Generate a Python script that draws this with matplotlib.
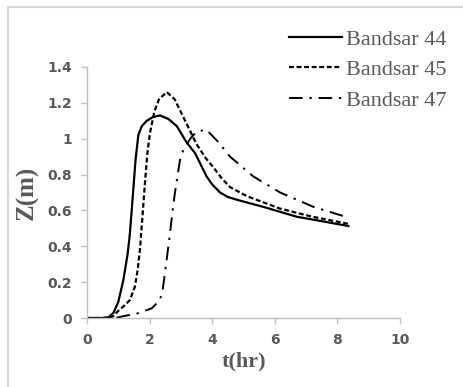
import matplotlib
matplotlib.use("Agg")
import matplotlib.pyplot as plt
from matplotlib.lines import Line2D

# Data
t44 = [0, 0.5, 0.7, 0.85, 1.0, 1.16, 1.3, 1.37, 1.45, 1.55, 1.64, 1.75, 1.91, 2.1, 2.33, 2.6, 2.87, 3.18, 3.45, 3.65, 3.82, 4.0, 4.25, 4.5, 4.78, 5.2, 5.63, 6.7, 7.5, 8.35]
z44 = [0, 0, 0.005, 0.03, 0.09, 0.21, 0.36, 0.47, 0.65, 0.88, 1.02, 1.07, 1.10, 1.12, 1.13, 1.11, 1.07, 0.98, 0.92, 0.85, 0.79, 0.745, 0.70, 0.675, 0.66, 0.64, 0.62, 0.565, 0.54, 0.513]

t45 = [0, 0.7, 0.84, 1.0, 1.2, 1.37, 1.53, 1.62, 1.69, 1.77, 1.85, 1.93, 2.01, 2.15, 2.3, 2.55, 2.8, 3.08, 3.5, 3.8, 4.04, 4.3, 4.57, 5.1, 6.17, 7.2, 8.35]
z45 = [0, 0, 0.01, 0.04, 0.07, 0.10, 0.175, 0.27, 0.38, 0.56, 0.75, 0.92, 1.03, 1.15, 1.22, 1.26, 1.22, 1.12, 0.97, 0.89, 0.84, 0.78, 0.73, 0.68, 0.61, 0.565, 0.525]

t47 = [0, 0.9, 1.16, 1.6, 2.07, 2.33, 2.42, 2.49, 2.57, 2.65, 2.73, 2.81, 2.97, 3.08, 3.3, 3.5, 3.82, 4.2, 4.57, 5.31, 6.17, 7.23, 8.35]
z47 = [0, 0, 0.01, 0.025, 0.054, 0.10, 0.16, 0.25, 0.36, 0.47, 0.59, 0.70, 0.88, 0.94, 1.0, 1.04, 1.05, 0.98, 0.90, 0.79, 0.70, 0.62, 0.56]

labels = ["Bandsar 44", "Bandsar 45", "Bandsar 47"]
xticks = [0, 2, 4, 6, 8, 10]
yticks = [0, 0.2, 0.4, 0.6, 0.8, 1, 1.2, 1.4]
ytick_labels = ["0", "0.2", "0.4", "0.6", "0.8", "1", "1.2", "1.4"]

plt.rcParams["font.family"] = ["DejaVu Sans"]
plt.rcParams["font.weight"] = "bold"

grey = "#595959"
fig = plt.figure(figsize=(4.63, 3.87), dpi=100)
ax = fig.add_axes([87/463, 1-318/387, 313/463, 251/387])

l1, = ax.plot(t44, z44, color="black", lw=1.6, linestyle="-")
l2, = ax.plot(t45, z45, color="black", lw=1.6, linestyle=(0, (2.2, 1.2)))
l3, = ax.plot(t47, z47, color="black", lw=1.4, linestyle=(0, (7, 3.5, 1.2, 3.5)))

ax.set_xlim(0, 10)
ax.set_ylim(0, 1.4)
ax.set_xticks(xticks)
ax.set_yticks(yticks)
ax.set_yticklabels(ytick_labels)
for s in ["top", "right"]:
    ax.spines[s].set_visible(False)
for s in ["left", "bottom"]:
    ax.spines[s].set_color("#bfbfbf")
    ax.spines[s].set_linewidth(1.0)
ax.tick_params(axis="both", colors="#bfbfbf", length=4, width=1, labelcolor=grey, labelsize=10)
ax.tick_params(axis="x", pad=7)
ax.tick_params(axis="y", pad=7)
for lab in ax.get_xticklabels() + ax.get_yticklabels():
    lab.set_fontweight("bold")

ax.set_xlabel("t(hr)", fontfamily="Liberation Serif", fontweight="bold", fontsize=16, color=grey, labelpad=3)
ax.set_ylabel("Z(m)", fontfamily="Liberation Serif", fontweight="bold", fontsize=18, color=grey, labelpad=6)

leg = fig.legend([l1, l2, l3], labels, loc="upper right", bbox_to_anchor=(466/463, 1-9/387),
                 frameon=False, handlelength=2.4, handletextpad=0.15, labelspacing=0.45,
                 prop={"family": "Liberation Serif", "size": 16, "weight": "normal"})
for txt in leg.get_texts():
    txt.set_color(grey)

# chart border (partial, light grey)
fig.add_artist(Line2D([7.5/463, 1.0], [1-6.5/387, 1-6.5/387], transform=fig.transFigure, color="#d9d9d9", lw=1.5))
fig.add_artist(Line2D([7.5/463, 7.5/463], [0, 1-6.5/387], transform=fig.transFigure, color="#d9d9d9", lw=1.5))

fig.savefig("out.png", dpi=100)
